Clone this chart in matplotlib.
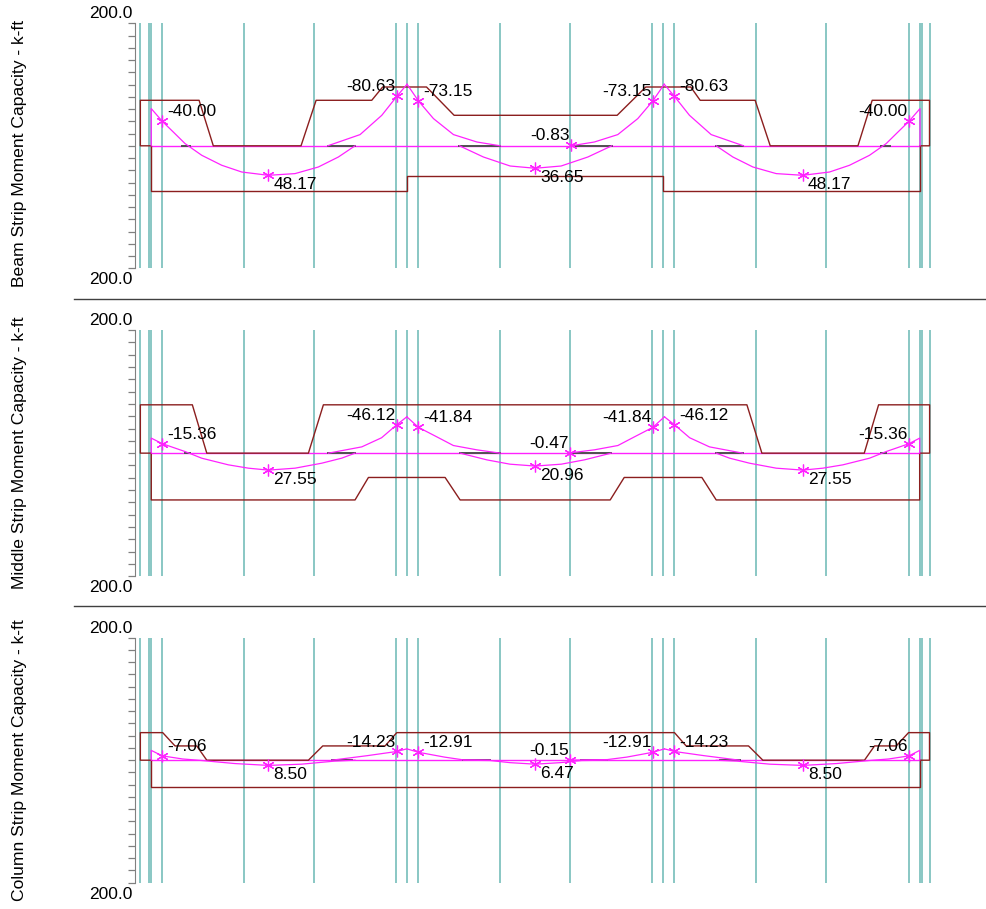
import matplotlib
matplotlib.use("Agg")
import matplotlib.pyplot as plt
from matplotlib.lines import Line2D

plt.rcParams["font.family"] = ["Liberation Sans", "DejaVu Sans"]

# x in ft (supports at 0, 24, 48, 72), moments in k-ft (positive drawn downward)
grid_x = [-0.95, -0.14, 0.07, 1.12, 8.74, 15.31, 22.96, 24.01, 25.01, 32.68,
          39.22, 46.91, 47.92, 48.90, 56.62, 63.17, 70.86, 71.89, 72.11, 72.82]

panel_titles = ["Beam Strip Moment Capacity - k-ft",
                "Middle Strip Moment Capacity - k-ft",
                "Column Strip Moment Capacity - k-ft"]

# ---- beam strip ----
beam_neg_cap = [(0.07, 0), (-0.95, 0), (-0.95, -74.3), (4.54, -74.3), (5.87, 0),
                (14.07, 0), (15.48, -74.3), (20.68, -74.3), (21.7, -96.0),
                (25.8, -96.0), (28.38, -49.8), (43.62, -49.8), (46.3, -96.0),
                (50.5, -96.0), (51.38, -74.3), (56.52, -74.3), (57.93, 0),
                (66.13, 0), (67.46, -74.3), (72.82, -74.3), (72.82, 0), (71.93, 0)]
beam_pos_cap = [(0.07, 0), (0.07, 73.8), (24.01, 73.8), (24.01, 49.8),
                (47.92, 49.8), (47.92, 73.8), (71.93, 73.8), (71.93, 0)]
beam_moment = [
    [(0.07, 0), (0.07, -60.7), (1.10, -40.0), (2.13, -22.5), (3.23, -3.6),
     (4.79, 15.5), (6.66, 31.8), (8.53, 42.8), (11.02, 48.17), (13.51, 45.4),
     (15.69, 34.6), (17.56, 18.3), (19.12, 0)],
    [(16.57, 0), (19.59, -18.3), (21.62, -49.8), (23.02, -80.63), (23.98, -100.5)],
    [(23.98, -100.5), (25.05, -73.15), (26.45, -44.4), (28.32, -18.3),
     (30.51, -6.2), (32.69, 0)],
    [(28.88, 0), (31.12, 18.3), (33.62, 33.0), (35.95, 36.65), (38.38, 33.0),
     (40.88, 18.3), (43.12, 0)],
    [(39.31, 0), (41.49, -6.2), (43.68, -18.3), (45.55, -44.4), (46.95, -73.15),
     (48.02, -100.5)],
    [(48.02, -100.5), (48.98, -80.63), (50.38, -49.8), (52.41, -18.3), (55.43, 0)],
    [(52.88, 0), (54.44, 18.3), (56.31, 34.6), (58.49, 45.4), (60.98, 48.17),
     (63.47, 42.8), (65.34, 31.8), (67.21, 15.5), (68.77, -3.6), (69.87, -22.5),
     (70.90, -40.0), (71.93, -60.7), (71.93, 0)],
]
beam_points = [(1.10, -40.00), (11.02, 48.17), (23.02, -80.63), (25.05, -73.15),
               (35.95, 36.65), (39.31, -0.83), (46.95, -73.15), (48.98, -80.63),
               (60.98, 48.17), (70.90, -40.00)]
beam_zero_marks = [(2.92, 3.69), (16.57, 19.12), (28.88, 32.69), (39.31, 43.12),
                   (52.88, 55.43), (68.31, 69.08)]

# ---- middle strip ----
middle_neg_cap = [(0.07, 0), (-0.95, 0), (-0.95, -78.5), (3.91, -78.5), (5.26, 0),
                  (14.76, 0), (16.16, -78.5), (55.75, -78.5), (57.15, 0),
                  (66.72, 0), (68.06, -78.5), (72.83, -78.5), (72.83, 0), (71.9, 0)]
middle_pos_cap = [(0.07, 0), (0.07, 76.0), (19.12, 76.0), (20.37, 39.5),
                  (27.54, 39.5), (28.94, 76.0), (42.97, 76.0), (44.28, 39.5),
                  (51.54, 39.5), (52.88, 76.0), (71.9, 76.0), (71.9, 0)]
middle_moment = [
    [(0.07, 0), (0.07, -24.4), (1.10, -15.36), (3.23, -2.6), (4.79, 8.2),
     (7.28, 19.0), (9.15, 24.4), (11.02, 27.55), (13.51, 24.4), (16.01, 16.3),
     (17.88, 8.1), (19.12, 0)],
    [(16.63, 0), (19.75, -10.2), (21.6, -25.0), (23.02, -46.12), (23.96, -59.0)],
    [(23.96, -59.0), (25.05, -41.84), (26.76, -26.5), (28.31, -12.4),
     (30.5, -5.4), (32.68, 0)],
    [(28.94, 0), (31.44, 10.9), (33.6, 17.9), (35.96, 20.96), (38.4, 17.9),
     (40.56, 10.9), (43.06, 0)],
    [(39.23, -0.47), (41.5, -5.4), (43.69, -12.4), (45.24, -26.5),
     (46.95, -41.84), (48.04, -59.0)],
    [(48.04, -59.0), (48.98, -46.12), (50.4, -25.0), (52.25, -10.2), (55.37, 0)],
    [(52.88, 0), (54.12, 8.1), (55.99, 16.3), (58.49, 24.4), (60.98, 27.55),
     (62.85, 24.4), (64.72, 19.0), (67.21, 8.2), (68.77, -2.6), (70.90, -15.36),
     (71.9, -24.4), (71.9, 0)],
]
middle_points = [(1.10, -15.36), (11.02, 27.55), (23.02, -46.12), (25.05, -41.84),
                 (35.96, 20.96), (39.23, -0.47), (46.95, -41.84), (48.98, -46.12),
                 (60.98, 27.55), (70.90, -15.36)]
middle_zero_marks = [(3.23, 3.69), (16.63, 19.12), (28.94, 32.68), (39.23, 43.03),
                     (52.88, 55.37), (68.31, 68.77)]

# ---- column strip ----
column_neg_cap = [(0.07, 0), (-0.95, 0), (-0.95, -45.0), (1.14, -45.0), (2.29, -23.3),
                  (4.32, -23.3), (5.26, 0), (14.76, 0), (16.1, -23.3), (21.93, -23.3),
                  (23.02, -45.0), (48.98, -45.0), (50.07, -23.3), (55.9, -23.3),
                  (57.24, 0), (66.74, 0), (67.68, -23.3), (69.71, -23.3),
                  (70.86, -45.0), (72.82, -45.0), (72.82, 0), (71.9, 0)]
column_pos_cap = [(0.07, 0), (0.07, 43.0), (71.9, 43.0), (71.9, 0)]
column_moment = [
    [(0.07, 0), (0.07, -16.0), (1.10, -7.06), (3.0, -2.0), (4.79, 0.5),
     (7.9, 5.5), (11.02, 8.50), (14.1, 6.5), (17.2, 1.5), (19.12, 0)],
    [(16.94, 0), (20.3, -7.5), (23.02, -14.23), (23.96, -18.5)],
    [(23.96, -18.5), (25.05, -12.91), (27.5, -5.0), (29.25, -0.5), (31.75, 0)],
    [(29.25, 0), (31.75, 0.5), (33.6, 4.0), (35.96, 6.47), (38.3, 4.0),
     (40.3, 0.5), (42.7, 0)],
    [(39.23, -0.15), (42.7, -1.0), (44.5, -5.0), (46.95, -12.91), (48.04, -18.5)],
    [(48.04, -18.5), (48.98, -14.23), (51.7, -7.5), (55.06, 0)],
    [(52.88, 0), (54.8, 1.5), (57.9, 6.5), (60.98, 8.50), (64.1, 5.5),
     (67.21, 0.5), (69.0, -2.0), (70.90, -7.06), (71.9, -16.0), (71.9, 0)],
]
column_points = [(1.10, -7.06), (11.02, 8.50), (23.02, -14.23), (25.05, -12.91),
                 (35.96, 6.47), (39.23, -0.15), (46.95, -12.91), (48.98, -14.23),
                 (60.98, 8.50), (70.90, -7.06)]
column_zero_marks = [(16.94, 18.81), (29.25, 31.75), (40.25, 42.7), (53.19, 55.06)]

# text to the right (+1) or left (-1) of each marked point
label_sides = [1, 1, -1, 1, 1, -1, -1, 1, 1, -1]

TEAL = "#6ab8b4"
RED = "#8b1e1e"
MAGENTA = "#ff22ff"
GREY = "#808080"
FS = 12.5


def draw_panel(ax, neg_cap, pos_cap, moment, points, zero_marks):
    for x in grid_x:
        ax.axvline(x, color=TEAL, lw=1.1, zorder=1)
    ax.plot([0.07, 71.93], [0, 0], color=MAGENTA, lw=1.0, zorder=2)
    for cap in (neg_cap, pos_cap):
        ax.plot([p[0] for p in cap], [p[1] for p in cap], color=RED, lw=1.0, zorder=3)
    for x0, x1 in zero_marks:
        ax.plot([x0, x1], [0, 0], color="#505050", lw=1.4, zorder=4)
    for seg in moment:
        ax.plot([p[0] for p in seg], [p[1] for p in seg], color=MAGENTA, lw=0.9, zorder=5)
    ax.plot([p[0] for p in points], [p[1] for p in points], ls="none",
            marker=(6, 2, 0), ms=8.5, mec=MAGENTA, mew=0.9, zorder=6)
    for (x, m), side in zip(points, label_sides):
        dx = 3.6 if side > 0 else -1.0
        dy = 6.8 if m < 0 else -6.8
        ax.annotate(f"{m:.2f}", (x, m), xytext=(dx, dy), textcoords="offset points",
                    ha="left" if side > 0 else "right", va="center",
                    fontsize=FS, zorder=7)

    ax.set_xlim(-1.45, 73.8)
    ax.set_ylim(200, -200)
    ax.set_yticks(range(-200, 201, 20))
    ax.set_yticklabels([])
    ax.set_xticks([])
    ax.tick_params(axis="y", direction="out", length=5, width=0.9, color=GREY)
    for side in ("top", "right", "bottom"):
        ax.spines[side].set_visible(False)
    ax.spines["left"].set_color(GREY)
    ax.patch.set_visible(False)
    ax.annotate("200.0", (0, 1), xycoords="axes fraction", xytext=(-1.6, 6.9),
                textcoords="offset points", ha="right", va="center", fontsize=FS)
    ax.annotate("200.0", (0, 0), xycoords="axes fraction", xytext=(-1.6, -8.4),
                textcoords="offset points", ha="right", va="center", fontsize=FS)


W, H = 986, 909
fig = plt.figure(figsize=(W / 100, H / 100), dpi=100)

panels = [
    (23.3, 268.3, 153.5, beam_neg_cap, beam_pos_cap, beam_moment, beam_points, beam_zero_marks),
    (330.0, 576.3, 452.5, middle_neg_cap, middle_pos_cap, middle_moment, middle_points, middle_zero_marks),
    (637.7, 882.7, 760.0, column_neg_cap, column_pos_cap, column_moment, column_points, column_zero_marks),
]
for (top, bot, label_y, neg, pos, mom, pts, zm), title in zip(panels, panel_titles):
    ax = fig.add_axes([135 / W, 1 - bot / H, 805 / W, (bot - top) / H])
    draw_panel(ax, neg, pos, mom, pts, zm)
    fig.text(20 / W, 1 - label_y / H, title, rotation=90, ha="center", va="center",
             fontsize=12.6)

for y in (299.3, 606.0):
    fig.add_artist(Line2D([74 / W, 1.0], [1 - y / H, 1 - y / H], color="#404040", lw=1.0))

fig.savefig("out.png", dpi=100)
